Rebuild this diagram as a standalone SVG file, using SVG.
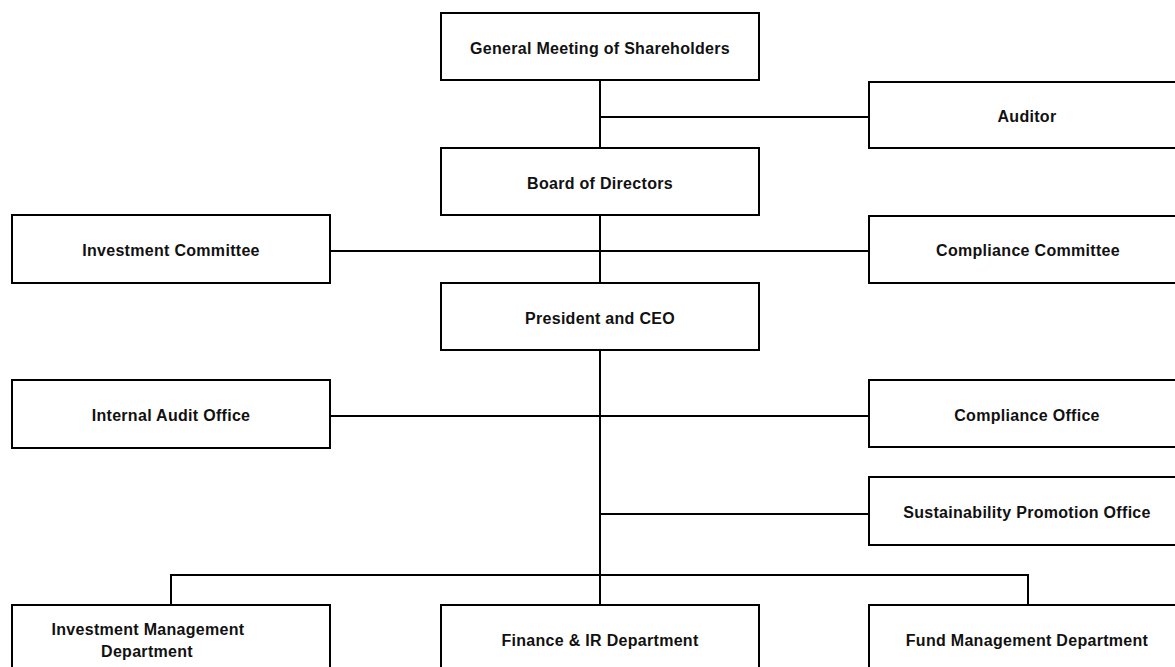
<svg xmlns="http://www.w3.org/2000/svg" width="1175" height="667" viewBox="0 0 1175 667">
<style>
.box{fill:#fff;stroke:#000;stroke-width:2}
.lbl{font-family:"Liberation Sans",Arial,sans-serif;font-weight:bold;font-size:16px;letter-spacing:0.3px;fill:#111;text-anchor:middle;dominant-baseline:central}
.con{fill:none;stroke:#000;stroke-width:2}
</style>
<rect width="1175" height="667" fill="#fff"/>
<g id="connectors">
<path class="con" d="M600 80V605"/>
<path class="con" d="M600 117H870"/>
<path class="con" d="M330 251H870"/>
<path class="con" d="M330 416H870"/>
<path class="con" d="M600 514H870"/>
<path class="con" d="M171 605V575H1028V605"/>
</g>
<g id="gms"><rect class="box" x="441" y="13" width="318" height="67"/><text class="lbl" x="600" y="48">General Meeting of Shareholders</text></g>
<g id="auditor"><rect class="box" x="869" y="82" width="310" height="66"/><text class="lbl" x="1027" y="116">Auditor</text></g>
<g id="board"><rect class="box" x="441" y="148" width="318" height="67"/><text class="lbl" x="600" y="183">Board of Directors</text></g>
<g id="invcomm"><rect class="box" x="12" y="215" width="318" height="68"/><text class="lbl" x="171" y="250">Investment Committee</text></g>
<g id="compcomm"><rect class="box" x="869" y="216" width="310" height="67"/><text class="lbl" x="1028" y="250">Compliance Committee</text></g>
<g id="ceo"><rect class="box" x="441" y="283" width="318" height="67"/><text class="lbl" x="600" y="318">President and CEO</text></g>
<g id="iao"><rect class="box" x="12" y="380" width="318" height="68"/><text class="lbl" x="171" y="415">Internal Audit Office</text></g>
<g id="co"><rect class="box" x="869" y="380" width="310" height="67"/><text class="lbl" x="1027" y="415">Compliance Office</text></g>
<g id="spo"><rect class="box" x="869" y="477" width="310" height="68"/><text class="lbl" x="1027" y="512">Sustainability Promotion Office</text></g>
<g id="imd"><rect class="box" x="12" y="605" width="318" height="67"/><text class="lbl" x="148" y="629">Investment Management</text><text class="lbl" x="147" y="651">Department</text></g>
<g id="fir"><rect class="box" x="441" y="605" width="318" height="67"/><text class="lbl" x="600" y="640">Finance &amp; IR Department</text></g>
<g id="fmd"><rect class="box" x="869" y="605" width="310" height="67"/><text class="lbl" x="1027" y="640">Fund Management Department</text></g>
</svg>
